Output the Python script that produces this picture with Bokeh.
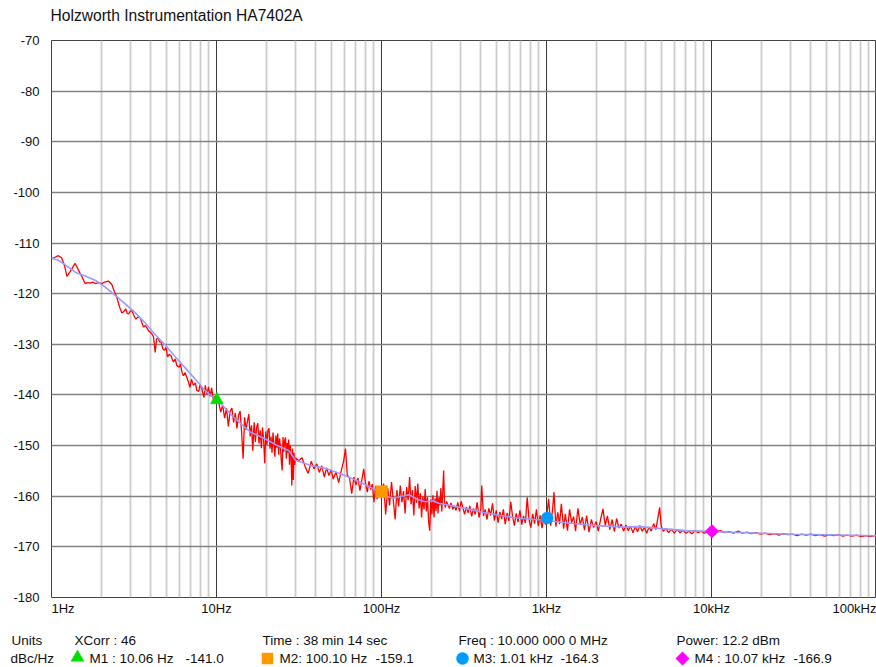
from bokeh.plotting import figure
from bokeh.models import Range1d, FixedTicker, ColumnDataSource
from bokeh.layouts import column
from bokeh.embed import file_html
from bokeh.resources import INLINE
from bokeh.core.properties import value
import math

FONT = "Liberation Sans"

# ---------------- data ----------------
title_text = "Holzworth Instrumentation HA7402A"
y_ticks = [-70, -80, -90, -100, -110, -120, -130, -140, -150, -160, -170, -180]
x_ticks = [1, 10, 100, 1000, 10000, 100000]
x_tick_labels = ["1Hz", "10Hz", "100Hz", "1kHz", "10kHz", "100kHz"]

# smoothed trace
blue_freq = [1.0, 1.1, 1.2, 1.4, 1.6, 1.85, 2.1, 2.4, 2.8, 3.2, 3.7, 4.2, 4.9, 5.6, 6.4, 7.4, 8.5, 10.0,
             10.6, 13, 16, 19.8, 23.4, 27.5, 30.1, 37, 47, 59, 74, 94,
             100, 117, 147, 167, 184, 206, 221, 250, 330, 418, 527, 665, 840,
             1000, 1180, 1450, 2000, 3000, 3600, 4000, 5000, 7000,
             10000, 20000, 30000, 50000, 100000]
blue_db = [-113.0, -113.4, -114.2, -115.8, -116.5, -117.4, -118.6, -120.2, -122.0, -123.7, -125.8, -127.9, -130.2, -132.4, -134.5, -136.8, -139.1, -141.0,
           -141.7, -144.7, -147.3, -148.7, -150.0, -151.0, -152.9, -153.9, -154.6, -155.8, -157.2, -158.9,
           -159.7, -160.4, -159.7, -160.7, -161.1, -160.9, -161.4, -161.7, -162.5, -163.2, -163.8, -164.3, -164.6,
           -164.7, -165.1, -165.4, -165.8, -166.1, -166.0, -166.1, -166.4, -166.8,
           -167.0, -167.3, -167.5, -167.6, -167.8]

# measured (noisy) trace
red_freq = [
    1.00, 1.05, 1.10, 1.15, 1.20, 1.24, 1.30, 1.39, 1.45, 1.52, 1.60, 1.66, 1.72, 1.78, 1.84, 1.93,
    2.02, 2.10, 2.21, 2.32, 2.40, 2.49, 2.55, 2.61, 2.67, 2.73, 2.82, 2.88, 2.93, 3.00, 3.07, 3.15,
    3.24, 3.35, 3.46, 3.55, 3.61, 3.70, 3.78, 3.87, 3.97, 4.05, 4.15, 4.25, 4.33, 4.42, 4.52, 4.62,
    4.73, 4.84, 4.95, 5.05, 5.15, 5.30, 5.40, 5.49, 5.62, 5.75, 5.94, 6.05, 6.18, 6.30, 6.45, 6.60,
    6.77, 6.90, 7.05, 7.25, 7.45, 7.60, 7.80, 7.95, 8.15, 8.40, 8.55, 8.75, 8.95, 9.15, 9.35, 9.55, 9.75,
    10.0, 10.3, 10.6, 10.9, 11.2, 11.5, 11.8, 12.1, 12.4, 12.7, 13.0, 13.3, 13.6, 13.9, 14.2, 14.5,
    14.8, 15.1, 15.4, 15.7, 16.0, 16.3, 16.6, 16.9, 17.2, 17.5, 17.8, 18.1, 18.4, 18.7, 19.0, 19.3,
    19.6, 19.9, 20.2, 20.5, 20.8, 21.1, 21.4, 21.7, 22.0, 22.3, 22.6, 22.9, 23.2, 23.5, 23.8, 24.1,
    24.4, 24.7, 25.0, 25.3, 25.6, 25.9, 26.2, 26.5, 26.8, 27.1, 27.4, 27.7, 28.0, 28.3, 28.6, 28.9,
    29.2, 29.5, 29.8, 30.1, 31.5, 33.0, 34.5, 36.0, 37.5, 39.0, 40.5, 42.0, 43.5, 45.0, 46.5, 48.0,
    49.5, 51.0, 53.0, 55.0, 57.0, 59.0, 60.5, 62.0, 64.0, 66.0, 68.0, 70.0, 72.0, 74.0, 76.0, 78.0,
    80.0, 82.0, 84.0, 86.0, 88.0, 90.0, 92.0, 94.0, 96.0, 98.0,
    100, 103, 106, 109, 112, 115, 118, 121, 124, 127, 130, 133, 136, 139, 142, 145, 148, 151, 154, 157,
    160, 163, 166, 169, 172, 175, 178, 181, 184, 187, 190, 193, 196, 199, 202, 205, 208, 211, 214, 217,
    220, 223, 226, 229, 232, 235, 238, 241, 244, 248, 253, 258, 264, 270, 276, 283, 290, 297, 304, 311,
    319, 327, 335, 343, 352, 361, 370, 380, 390, 400, 405, 415, 425, 436, 447, 459, 471, 483, 496, 509,
    522, 535, 548, 562, 577, 592, 607, 623, 639, 655, 672, 690, 708, 726, 745, 764, 784, 804, 825, 847,
    869, 892, 915, 939, 963, 988,
    1000, 1030, 1060, 1090, 1110, 1140, 1170, 1200, 1230, 1270, 1300, 1340, 1380, 1420, 1460, 1500,
    1550, 1600, 1650, 1700, 1750, 1810, 1870, 1930, 2000, 2060, 2130, 2200, 2270, 2340, 2420, 2500,
    2580, 2660, 2750, 2840, 2930, 3030, 3130, 3230, 3340, 3450, 3560, 3680, 3800, 3920, 4050, 4180,
    4320, 4460, 4600, 4750, 4850, 4950, 5100, 5300, 5500, 5700, 5950, 6200, 6450, 6700, 7000, 7300,
    7600, 7950, 8300, 8650, 9050, 9500,
    10000, 10600, 11300, 12000, 12800, 13600, 14500, 15400, 16400, 17500, 18600, 19800, 21100, 22500,
    24000, 25600, 27300, 29100, 31000, 33000, 35200, 37500, 40000, 42600, 45400, 48400, 51600, 55000,
    58600, 62500, 66600, 71000, 75700, 80700, 86000, 91700, 97700, 100000]
red_db = [
    -113.1, -112.8, -112.5, -112.9, -114.5, -116.6, -115.6, -114.0, -115.2, -116.5, -118.0, -117.8, -117.9, -117.7, -118.0, -117.8,
    -118.0, -117.7, -117.5, -118.2, -119.5, -120.7, -122.0, -123.0, -123.8, -123.6, -123.0, -123.9, -124.0, -123.5, -123.3, -124.2,
    -125.0, -124.6, -124.8, -126.0, -126.6, -126.3, -126.7, -127.3, -127.6, -127.9, -128.5, -131.6, -129.0, -128.7, -129.5, -129.6,
    -130.9, -131.2, -130.6, -132.5, -132.0, -132.2, -133.0, -133.5, -132.9, -134.2, -134.5, -133.9, -135.5, -136.2, -135.6, -136.5,
    -137.5, -138.5, -136.9, -138.1, -137.6, -139.1, -139.3, -137.9, -138.8, -140.5, -138.1, -139.9, -138.4, -140.3, -138.6, -140.9, -140.2,
    -141.0, -141.3, -143.4, -142.0, -144.6, -142.6, -146.2, -143.2, -142.6, -145.4, -143.6, -146.6, -144.0, -143.2, -147.4, -152.6,
    -144.4, -146.9, -145.2, -143.8, -148.2, -146.0, -151.0, -145.4, -149.3, -146.4, -145.6, -149.6, -147.0, -150.5, -146.4, -148.8,
    -153.5, -147.2, -149.8, -147.0, -146.6, -150.6, -148.2, -151.4, -147.4, -149.9, -152.2, -148.0, -150.4, -147.6, -151.8, -148.6,
    -150.2, -153.0, -154.9, -148.3, -151.2, -149.0, -148.4, -152.6, -149.5, -151.4, -148.8, -153.8, -150.0, -152.0, -157.9, -150.6,
    -156.8, -151.4, -153.8, -152.4, -153.0, -152.4, -154.2, -155.5, -153.1, -154.6, -153.6, -155.3, -154.0, -156.2, -154.4, -155.9,
    -154.8, -156.6, -155.2, -157.3, -155.0, -153.0, -150.6, -155.8, -156.4, -159.5, -156.2, -157.8, -156.4, -158.9, -156.8, -154.6,
    -157.4, -159.2, -157.0, -158.7, -157.6, -161.2, -158.0, -160.6, -158.4, -160.0,
    -159.1, -157.5, -163.6, -158.4, -161.8, -157.2, -160.9, -164.6, -158.8, -162.0, -157.9, -161.2, -159.0, -163.4, -158.2, -160.8, -156.2, -161.6, -158.8, -163.8,
    -158.0, -161.3, -157.5, -162.4, -159.4, -164.2, -160.0, -162.6, -158.6, -163.0, -160.2, -165.0, -166.8, -160.6, -163.6, -159.8, -164.2, -160.4, -162.9, -158.9,
    -163.4, -160.2, -161.8, -158.4, -163.0, -159.2, -154.9, -161.5, -162.2, -161.0, -161.8, -162.4, -161.3, -162.6, -161.9, -162.8, -161.2, -163.0, -161.0, -162.2,
    -163.6, -162.1, -163.3, -161.9, -164.0, -162.4, -163.6, -161.2, -164.2, -162.5, -157.9, -163.9, -162.6, -164.6, -162.4, -163.8, -161.4, -164.8, -162.8, -165.2,
    -163.1, -164.5, -162.6, -165.5, -163.3, -164.9, -161.1, -164.0, -165.8, -163.4, -165.1, -162.8, -165.6, -163.9, -165.3, -160.2, -164.6, -166.2, -163.5, -165.4,
    -162.6, -165.9, -163.8, -166.3, -164.2, -165.6,
    -164.3, -160.5, -165.8, -162.4, -159.2, -166.0, -163.2, -165.5, -161.5, -166.4, -163.5, -166.8, -162.6, -165.2, -164.0, -166.9,
    -162.4, -165.6, -164.1, -166.7, -163.8, -167.1, -164.6, -166.2, -165.0, -166.9, -164.5, -162.5, -165.8, -163.9, -166.6, -164.6,
    -167.0, -164.4, -166.3, -165.5, -166.9, -165.7, -166.8, -165.9, -167.2, -166.0, -167.0, -165.8, -166.9, -166.2, -167.3, -166.1,
    -166.9, -165.4, -166.6, -164.0, -162.2, -165.8, -166.9, -166.4, -167.2, -166.5, -167.3, -166.6, -167.2, -166.7, -167.3, -166.9,
    -167.4, -166.8, -167.2, -166.9, -167.3, -166.9,
    -167.0, -167.1, -166.8, -167.2, -167.0, -167.3, -166.9, -167.3, -167.1, -167.4, -167.2, -167.5, -167.3, -167.6,
    -167.4, -167.7, -167.4, -167.6, -167.5, -167.8, -167.5, -167.7, -167.5, -167.8, -167.6, -167.9, -167.6, -167.8,
    -167.6, -167.9, -167.7, -167.9, -167.7, -168.0, -167.8, -168.0, -167.8, -167.9]

# markers
marker_names = ["M1", "M2", "M3", "M4"]
marker_freq = [10.06, 100.10, 1010.0, 10070.0]
marker_db = [-141.0, -159.1, -164.3, -166.9]
marker_colors = ["#00dd00", "#ff9900", "#0099ff", "#ff00ff"]

info_units = "dBc/Hz"
info_xcorr = 46
info_time = "38 min 14 sec"
info_freq = "10.000 000 0 MHz"
info_power = 12.2

# ---------------- layout ----------------
W = 876
FRAME_L = 51
FRAME_H = 557
HEAD_H = 34
MAIN_TOP = 6
MAIN_BOT = 15
TICK_OVERLAP = 12
TICK_H = 20
INFO_H = 46
TXT = "#111111"
MARKERS = ["triangle", "square", "circle", "square"]
ANGLES = [0, 0, 0, math.pi / 4]


def bare(fig, fill="white"):
    fig.grid.visible = False
    fig.outline_line_color = None
    fig.border_fill_color = fill
    fig.background_fill_color = fill
    return fig


# title strip
head = bare(figure(width=W, height=HEAD_H, x_range=Range1d(0, W), y_range=Range1d(0, HEAD_H),
                   output_backend="svg", toolbar_location=None, min_border=0,
                   x_axis_location=None, y_axis_location=None))
head.frame_align = False
head.text(x=[50], y=[HEAD_H - 15], text=[title_text], text_font=value(FONT),
          text_font_size="15.6px", text_baseline="middle", text_align="left", text_color=TXT)

# main plot
p = figure(width=W, height=MAIN_TOP + FRAME_H + MAIN_BOT, x_axis_type="log",
           x_range=Range1d(1, 1e5), y_range=Range1d(y_ticks[-1], y_ticks[0]),
           output_backend="svg", toolbar_location=None,
           min_border_left=FRAME_L, min_border_right=0,
           min_border_top=MAIN_TOP, min_border_bottom=MAIN_BOT)
p.background_fill_color = "white"
p.border_fill_color = "white"
p.outline_line_color = "#444444"
p.outline_line_width = 1

minor = [m * 10 ** d for d in range(5) for m in range(2, 10)]
xticker = FixedTicker(ticks=x_ticks, minor_ticks=minor)
p.xaxis.ticker = xticker
p.xgrid.ticker = xticker
p.xaxis.visible = False
p.yaxis.ticker = FixedTicker(ticks=y_ticks)
p.yaxis.major_label_overrides = {t: str(t) for t in y_ticks}
ya = p.yaxis[0]
ya.axis_line_color = None
ya.major_tick_line_color = None
ya.minor_tick_line_color = None
ya.major_tick_out = 0
ya.major_tick_in = 0
ya.minor_tick_out = 0
ya.minor_tick_in = 0
ya.major_label_text_font = FONT
ya.major_label_text_font_size = "13px"
ya.major_label_text_color = TXT
ya.major_label_standoff = 12

p.xgrid.grid_line_color = "#3c3c3c"
p.xgrid.grid_line_width = 1
p.xgrid.minor_grid_line_color = "#cccccc"
p.xgrid.minor_grid_line_width = 1.8
p.ygrid.grid_line_color = "#838383"
p.ygrid.grid_line_width = 1.5

p.line(red_freq, red_db, line_color="#ff0000", line_width=1.3)
p.line(blue_freq, blue_db, line_color="#9a9aff", line_width=1.6)

msrc = ColumnDataSource(dict(x=marker_freq, y=marker_db, color=marker_colors, marker=MARKERS,
                             size=[13, 12, 12, 9.5], angle=ANGLES))
p.scatter("x", "y", source=msrc, marker="marker", size="size", angle="angle",
          fill_color="color", line_color="color", line_width=0.5)

# frequency tick-label strip (shares the log x scale of the plot; transparent, tucked under the plot)
tk = bare(figure(width=W, height=TICK_H, x_axis_type="log", x_range=p.x_range,
                 y_range=Range1d(0, TICK_H), output_backend="svg", toolbar_location=None,
                 min_border_left=FRAME_L, min_border_right=0, min_border_top=0, min_border_bottom=0,
                 x_axis_location=None, y_axis_location=None), fill=None)
tk.margin = (-TICK_OVERLAP, 0, 0, 0)
ty = TICK_H - 8
tick_style = dict(text_font=value(FONT), text_font_size="13px", text_baseline="middle", text_color=TXT)
tk.text(x=x_ticks[:1], y=[ty], text=x_tick_labels[:1], text_align="left", **tick_style)
tk.text(x=x_ticks[1:-1], y=[ty] * 4, text=x_tick_labels[1:-1], text_align="center", **tick_style)
tk.text(x=x_ticks[-1:], y=[ty], text=x_tick_labels[-1:], text_align="right", **tick_style)

# info strip
info = bare(figure(width=W, height=INFO_H, x_range=Range1d(0, W), y_range=Range1d(0, INFO_H),
                   output_backend="svg", toolbar_location=None, min_border=0,
                   x_axis_location=None, y_axis_location=None))
info.frame_align = False

m_labels = [
    f"{marker_names[0]}  : {marker_freq[0]:.2f} Hz",
    f"{marker_names[1]}: {marker_freq[1]:.2f} Hz",
    f"{marker_names[2]}: {marker_freq[2] / 1000:.2f} kHz",
    f"{marker_names[3]} : {marker_freq[3] / 1000:.2f} kHz",
]
m_values = [f"{v:.1f}" for v in marker_db]
row1 = ["Units", f"XCorr : {info_xcorr}", f"Time : {info_time}", f"Freq : {info_freq}",
        f"Power: {info_power} dBm"]
row1_x = [11, 74, 262, 458, 676]
row2 = [info_units] + m_labels + m_values
row2_x = [10, 89, 279, 473, 694, 185, 375, 560, 793]
ROW1_Y, ROW2_Y = INFO_H - 20, INFO_H - 38

info.text(x=row1_x + row2_x, y=[ROW1_Y] * len(row1) + [ROW2_Y] * len(row2), text=row1 + row2,
          text_font=value(FONT), text_font_size="13.5px", text_baseline="middle",
          text_align="left", text_color=TXT)

isrc = ColumnDataSource(dict(x=[77, 267, 462, 682], y=[ROW2_Y + 1, ROW2_Y, ROW2_Y, ROW2_Y],
                             color=marker_colors, marker=MARKERS,
                             size=[13, 11, 12, 9.5], angle=ANGLES))
info.scatter("x", "y", source=isrc, marker="marker", size="size", angle="angle",
             fill_color="color", line_color="color", line_width=0.5)

layout = column(head, p, tk, info, spacing=0)
open("out.html", "w").write(file_html(layout, INLINE))
